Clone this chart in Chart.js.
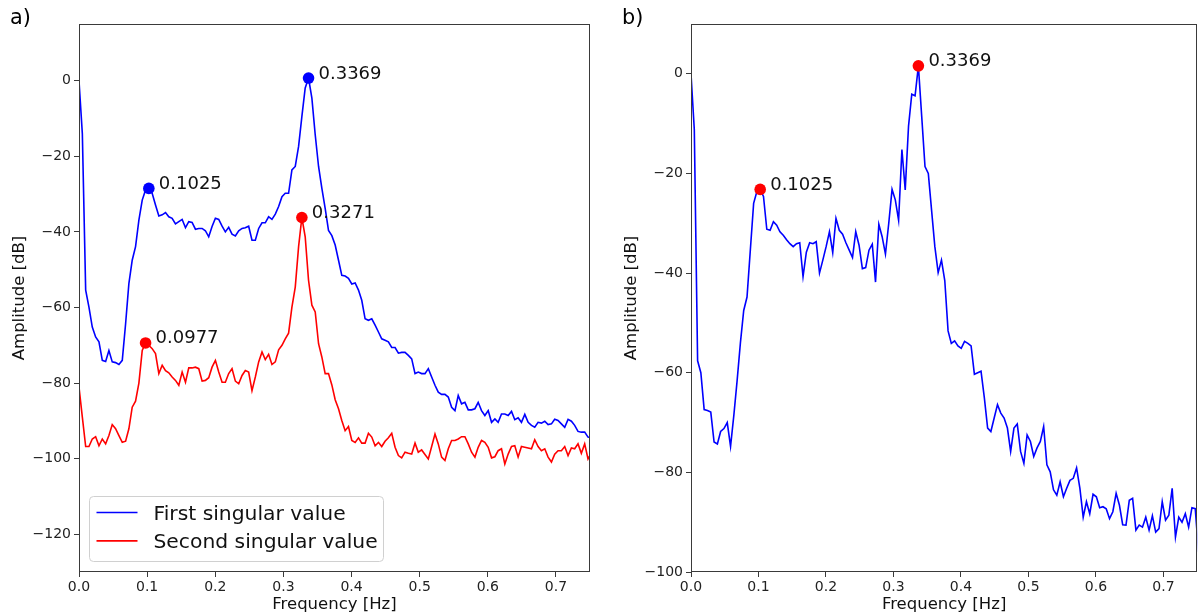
<!DOCTYPE html>
<html>
<head>
<meta charset="utf-8">
<script src="https://cdn.jsdelivr.net/npm/chart.js@4/dist/chart.umd.min.js"></script>
<style>
html, body { margin: 0; padding: 0; background: #fff; overflow: hidden; }
body { width: 1201px; height: 616px; position: relative; }
#wa { position: absolute; left: 0; top: 0; width: 600px; height: 616px; }
#wb { position: absolute; left: 600px; top: 0; width: 603px; height: 616px; }
</style>
</head>
<body>
<div id="wa"><canvas id="ca" width="600" height="616"></canvas></div>
<div id="wb"><canvas id="cb" width="603" height="616"></canvas></div>
<script>
// ---------- DATA ----------
const freqs = [
  0, 0.0049, 0.0098, 0.0146, 0.0195, 0.0244, 0.0293, 0.0342, 0.0391, 0.0439,
  0.0488, 0.0537, 0.0586, 0.0635, 0.0684, 0.0732, 0.0781, 0.0830, 0.0879, 0.0928,
  0.0977, 0.1025, 0.1074, 0.1123, 0.1172, 0.1221, 0.1270, 0.1318, 0.1367, 0.1416,
  0.1465, 0.1514, 0.1563, 0.1611, 0.1660, 0.1709, 0.1758, 0.1807, 0.1855, 0.1904,
  0.1953, 0.2002, 0.2051, 0.2100, 0.2148, 0.2197, 0.2246, 0.2295, 0.2344, 0.2393,
  0.2441, 0.2490, 0.2539, 0.2588, 0.2637, 0.2686, 0.2734, 0.2783, 0.2832, 0.2881,
  0.2930, 0.2979, 0.3027, 0.3076, 0.3125, 0.3174, 0.3223, 0.3271, 0.3320, 0.3369,
  0.3418, 0.3467, 0.3516, 0.3564, 0.3613, 0.3662, 0.3711, 0.3760, 0.3809, 0.3857,
  0.3906, 0.3955, 0.4004, 0.4053, 0.4102, 0.4150, 0.4199, 0.4248, 0.4297, 0.4346,
  0.4395, 0.4443, 0.4492, 0.4541, 0.4590, 0.4639, 0.4688, 0.4736, 0.4785, 0.4834,
  0.4883, 0.4932, 0.4980, 0.5029, 0.5078, 0.5127, 0.5176, 0.5225, 0.5273, 0.5322,
  0.5371, 0.5420, 0.5469, 0.5518, 0.5566, 0.5615, 0.5664, 0.5713, 0.5762, 0.5811,
  0.5859, 0.5908, 0.5957, 0.6006, 0.6055, 0.6104, 0.6152, 0.6201, 0.6250, 0.6299,
  0.6348, 0.6396, 0.6445, 0.6494, 0.6543, 0.6592, 0.6641, 0.6689, 0.6738, 0.6787,
  0.6836, 0.6885, 0.6934, 0.6982, 0.7031, 0.7080, 0.7129, 0.7178, 0.7227, 0.7275,
  0.7324, 0.7373, 0.7422, 0.7471, 0.7520
];

// Panel a) first singular value [dB]
const firstSingularA = [
  0, -14, -55.4, -59.9, -65.2, -67.8, -69.1, -74.0, -74.3, -71.4,
  -74.4, -74.6, -75.1, -74.0, -64.3, -53.7, -47.5, -43.9, -36.9, -31.6,
  -28.9, -28.5, -29.8, -32.9, -35.8, -35.5, -34.9, -36.0, -36.4, -37.9,
  -37.3, -36.7, -38.9, -37.3, -37.5, -39.3, -39.1, -39.1, -39.7, -41.3,
  -38.6, -36.4, -36.7, -38.5, -40.0, -38.8, -40.6, -41.1, -39.7, -39.1,
  -38.9, -38.5, -42.2, -42.2, -39.1, -37.6, -37.6, -36.0, -36.7, -35.3,
  -33.3, -30.7, -29.8, -29.8, -23.6, -22.7, -17.4, -9.5, -1.9, 0.7,
  -4.6, -14.3, -22.7, -28.4, -33.8, -39.6, -41.0, -43.5, -47.5, -51.5,
  -51.7, -52.3, -53.8, -53.5, -55.4, -58.1, -63.0, -63.4, -63.0, -64.7,
  -66.5, -68.3, -68.7, -69.1, -70.6, -70.6, -72.1, -71.9, -71.9, -72.7,
  -73.6, -77.5, -77.1, -77.5, -77.5, -76.2, -78.4, -80.6, -82.4, -83.0,
  -83.0, -83.7, -86.4, -87.3, -83.3, -85.5, -85.1, -87.1, -87.1, -86.8,
  -85.1, -87.3, -88.6, -87.3, -90.4, -89.5, -90.4, -88.2, -88.2, -88.6,
  -87.5, -89.7, -89.2, -90.4, -88.3, -90.4, -91.2, -91.7, -90.4, -90.6,
  -90.1, -91.0, -90.8, -89.6, -89.9, -90.8, -91.7, -89.6, -90.1, -91.2,
  -92.8, -93.0, -93.0, -94.3, -94.5
];

// Panel a) second singular value [dB]
const secondSingularA = [
  -81.1, -89, -96.8, -96.8, -94.8, -94.2, -96.6, -94.8, -96.1, -93.9,
  -91.0, -92.1, -93.9, -95.7, -95.4, -92.1, -86.4, -84.8, -80.0, -71.4,
  -69.4, -70.0, -70.9, -72.2, -77.5, -75.3, -76.7, -77.3, -78.4, -79.3,
  -80.6, -77.1, -79.8, -76.0, -76.0, -75.8, -76.2, -79.5, -79.3, -78.6,
  -75.8, -74.0, -77.1, -79.8, -79.8, -77.5, -76.2, -79.5, -80.2, -78.0,
  -76.7, -77.1, -82.0, -78.4, -74.4, -71.8, -73.8, -72.4, -75.1, -74.4,
  -71.2, -70.0, -68.3, -66.8, -59.9, -54.6, -43.9, -36.2, -41.3, -52.8,
  -59.4, -61.2, -69.6, -73.1, -77.5, -77.5, -80.5, -84.4, -86.8, -89.9,
  -92.6, -91.5, -95.2, -95.7, -94.5, -95.9, -95.9, -93.3, -94.3, -96.6,
  -95.7, -96.8, -95.4, -94.5, -93.3, -97.0, -99.2, -99.8, -98.3, -98.6,
  -98.8, -95.9, -98.3, -97.7, -98.9, -100.1, -96.8, -93.5, -96.1, -99.6,
  -100.5, -97.4, -95.2, -95.2, -94.8, -94.2, -94.2, -96.1, -98.3, -99.6,
  -97.0, -95.2, -95.7, -97.0, -99.8, -99.5, -97.9, -97.4, -101.4, -98.8,
  -96.8, -96.6, -99.6, -96.8, -97.0, -97.2, -97.4, -95.0, -96.8, -97.9,
  -97.4, -99.6, -100.9, -98.8, -97.9, -97.9, -96.8, -99.2, -97.2, -97.4,
  -96.1, -98.6, -96.1, -100.1, -98.5
];

// Panel b) amplitude [dB]
const amplitudeB = [
  0, -11.2, -57.6, -60.0, -67.4, -67.6, -67.9, -73.9, -74.3, -71.8,
  -71.2, -70.0, -74.8, -68.5, -61.5, -54.0, -47.5, -44.8, -35.4, -26.0,
  -23.6, -23.2, -24.6, -31.2, -31.4, -29.7, -30.4, -31.7, -32.4, -33.3,
  -34.1, -34.7, -34.1, -33.9, -40.7, -35.8, -33.9, -34.1, -33.7, -40.0,
  -37.4, -34.7, -31.7, -35.9, -29.0, -31.4, -32.2, -33.9, -35.4, -36.9,
  -31.7, -34.4, -39.1, -38.9, -35.4, -34.2, -41.8, -30.2, -32.7, -36.2,
  -30.0, -23.2, -25.3, -29.4, -15.2, -23.3, -10.5, -4.1, -4.4, 1.6,
  -8.5, -18.6, -20.0, -27.3, -34.7, -39.9, -37.4, -41.5, -51.6, -54.1,
  -53.6, -54.6, -55.1, -53.7, -54.1, -54.6, -60.3, -60.0, -59.7, -65.0,
  -71.1, -71.8, -69.1, -66.4, -68.1, -69.1, -71.1, -75.8, -71.1, -70.3,
  -75.8, -78.2, -72.5, -73.8, -76.8, -75.1, -73.8, -70.8, -78.5, -79.9,
  -83.5, -84.6, -81.9, -84.9, -83.2, -81.6, -81.2, -79.1, -83.2, -89.0,
  -85.9, -88.3, -84.4, -84.9, -87.1, -86.9, -87.3, -89.3, -87.9, -84.2,
  -86.6, -90.5, -90.6, -85.6, -85.2, -91.6, -90.6, -91.0, -89.0, -91.6,
  -88.7, -92.0, -91.3, -85.9, -89.6, -88.6, -83.2, -93.0, -89.0, -90.0,
  -88.3, -91.0, -87.1, -87.3, -96.0
];

// Picked peaks
const peaksFirstAFreq = [0.1025, 0.3369];
const peaksFirstAAmp = [-28.5, 0.7];
const peaksSecondAFreq = [0.0977, 0.3271];
const peaksSecondAAmp = [-69.4, -36.2];
const peaksBFreq = [0.1025, 0.3369];
const peaksBAmp = [-23.2, 1.6];

// Tick labels
const xTickValues = [0.0, 0.1, 0.2, 0.3, 0.4, 0.5, 0.6, 0.7];
const yTickValuesA = [-120, -100, -80, -60, -40, -20, 0];
const yTickValuesB = [-100, -80, -60, -40, -20, 0];

const seriesNames = ['First singular value', 'Second singular value'];
const xAxisTitle = 'Frequency [Hz]';
const yAxisTitle = 'Amplitude [dB]';

// ---------- HELPERS ----------
const FONT = "'DejaVu Sans', 'Liberation Sans', sans-serif";
Chart.defaults.font.family = FONT;

function toXY(xs, ys) { return xs.map((x, i) => ({ x: x, y: ys[i] })); }
function fmtMinus(v) { return v < 0 ? '\u2212' + Math.abs(v) : String(v); }

function lineDs(label, xs, ys, color, order) {
  return { label, data: toXY(xs, ys), borderColor: color, backgroundColor: color,
    borderWidth: 1.6, pointRadius: 0, tension: 0, fill: false, order, inLegend: true };
}
function peakDs(xs, ys, color) {
  return { label: 'peaks', data: toXY(xs, ys), showLine: false, pointRadius: 5.8,
    pointHoverRadius: 5.8, pointBackgroundColor: color, pointBorderWidth: 0,
    borderColor: color, order: 0, peakLabels: xs.map(f => f.toFixed(4)) };
}

function roundRect(ctx, x, y, w, h, r) {
  ctx.beginPath();
  ctx.moveTo(x + r, y);
  ctx.lineTo(x + w - r, y); ctx.arcTo(x + w, y, x + w, y + r, r);
  ctx.lineTo(x + w, y + h - r); ctx.arcTo(x + w, y + h, x + w - r, y + h, r);
  ctx.lineTo(x + r, y + h); ctx.arcTo(x, y + h, x, y + h - r, r);
  ctx.lineTo(x, y + r); ctx.arcTo(x, y, x + r, y, r);
  ctx.closePath();
}

const decor = {
  id: 'decor',
  afterDatasetsDraw(chart, args, o) {
    const ctx = chart.ctx, a = chart.chartArea;
    ctx.save();
    // frame (all four spines)
    ctx.strokeStyle = '#3a3a3a';
    ctx.lineWidth = 1;
    const l = Math.round(a.left) + 0.5, t = Math.round(a.top) + 0.5;
    const r = Math.round(a.right) - 0.5, b = Math.round(a.bottom) - 0.5;
    ctx.strokeRect(l, t, r - l, b - t);
    // peak annotations
    ctx.fillStyle = '#111';
    ctx.font = '18px ' + FONT;
    ctx.textAlign = 'left';
    ctx.textBaseline = 'alphabetic';
    chart.data.datasets.forEach((ds, di) => {
      if (!ds.peakLabels) return;
      chart.getDatasetMeta(di).data.forEach((pt, j) => {
        ctx.fillText(ds.peakLabels[j], pt.x + 10, pt.y + 0.5);
      });
    });
    // panel letter
    ctx.font = '20.8px ' + FONT;
    ctx.fillStyle = '#000';
    ctx.fillText(o.letter, o.lx, o.ly);
    // legend
    if (o.legend) {
      const entries = chart.data.datasets.filter(d => d.inLegend);
      const bx = a.left + 10.5, by = a.bottom - 75.5, bw = 294, bh = 65;
      roundRect(ctx, bx, by, bw, bh, 4);
      ctx.fillStyle = 'rgba(255,255,255,0.8)';
      ctx.fill();
      ctx.strokeStyle = '#d0d0d0';
      ctx.stroke();
      ctx.font = '20.3px ' + FONT;
      entries.forEach((d, k) => {
        const ly = by + 16 + k * 28.4;
        ctx.strokeStyle = d.borderColor;
        ctx.lineWidth = 1.6;
        ctx.beginPath();
        ctx.moveTo(bx + 7, ly); ctx.lineTo(bx + 48, ly);
        ctx.stroke();
        ctx.fillStyle = '#111';
        ctx.fillText(d.label, bx + 64, ly + 7.3);
      });
    }
    ctx.restore();
  }
};

function axisX() {
  return {
    type: 'linear', min: 0, max: 0.75,
    afterBuildTicks: s => { s.ticks = xTickValues.map(v => ({ value: v })); },
    afterFit: s => { s.height = 44; },
    ticks: { callback: v => Number(v).toFixed(1), color: '#222', font: { size: 14 },
      padding: 2, maxRotation: 0, autoSkip: false },
    grid: { display: true, drawOnChartArea: false, drawTicks: true, tickLength: 5, color: '#3a3a3a', lineWidth: 1 },
    border: { display: false },
    title: { display: true, text: xAxisTitle, color: '#111', font: { size: 16.5 }, padding: { top: 0, bottom: 1 } }
  };
}
function axisY(min, max, ticks, width, titlePad) {
  return {
    type: 'linear', min, max,
    afterBuildTicks: s => { s.ticks = ticks.map(v => ({ value: v })); },
    afterFit: s => { s.width = width; },
    ticks: { callback: v => fmtMinus(v), color: '#222', font: { size: 14 }, padding: 3, autoSkip: false },
    grid: { display: true, drawOnChartArea: false, drawTicks: true, tickLength: 5, color: '#3a3a3a', lineWidth: 1 },
    border: { display: false },
    title: { display: true, text: yAxisTitle, color: '#111', font: { size: 16.5 }, padding: { top: titlePad, bottom: 0 } }
  };
}

const common = {
  responsive: false, animation: false, events: [],
  plugins: { legend: { display: false }, tooltip: { enabled: false } }
};

// ---------- PANEL a) ----------
new Chart(document.getElementById('ca'), {
  type: 'line',
  data: { datasets: [
    lineDs(seriesNames[0], freqs, firstSingularA, '#0000ff', 2),
    lineDs(seriesNames[1], freqs, secondSingularA, '#ff0000', 1),
    peakDs(peaksFirstAFreq, peaksFirstAAmp, '#0000ff'),
    peakDs(peaksSecondAFreq, peaksSecondAAmp, '#ff0000')
  ]},
  options: Object.assign({}, common, {
    layout: { padding: { left: 0, top: 24, right: 10, bottom: 0 } },
    plugins: Object.assign({}, common.plugins, { decor: { letter: 'a)', lx: 10, ly: 23.5, legend: true } }),
    scales: { x: axisX(), y: axisY(-130, 15, yTickValuesA, 79, 10) }
  }),
  plugins: [decor]
});

// ---------- PANEL b) ----------
new Chart(document.getElementById('cb'), {
  type: 'line',
  data: { datasets: [
    lineDs('Amplitude', freqs, amplitudeB, '#0000ff', 1),
    peakDs(peaksBFreq, peaksBAmp, '#ff0000')
  ]},
  options: Object.assign({}, common, {
    layout: { padding: { left: 0, top: 24, right: 1, bottom: 0 } },
    plugins: Object.assign({}, common.plugins, { decor: { letter: 'b)', lx: 22, ly: 23.5, legend: false } }),
    scales: { x: axisX(), y: axisY(-100, 10, yTickValuesB, 91, 22) }
  }),
  plugins: [decor]
});
</script>
</body>
</html>
